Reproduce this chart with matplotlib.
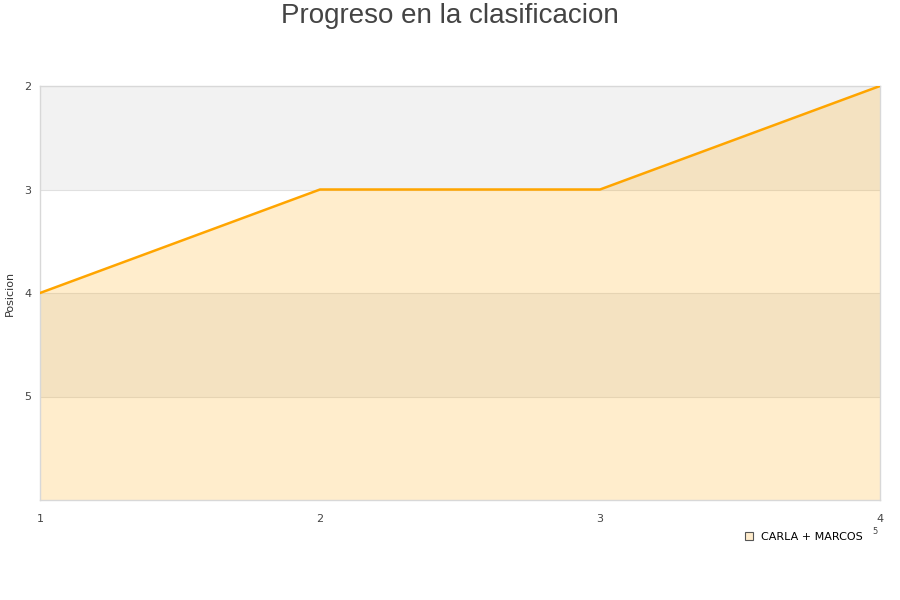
import matplotlib.pyplot as plt
from matplotlib.lines import Line2D

jornadas = [1, 2, 3, 4]
posiciones = [4, 3, 3, 2]
serie = 'CARLA + MARCOS'
y_ticks = [2, 3, 4, 5]

fig = plt.figure(figsize=(9, 6), dpi=100)
ax = fig.add_axes([40/900, 1 - 500/600, 840/900, 414/600])

# alternating bands
for lo, hi, col in [(2, 3, '#f2f2f2'), (3, 4, 'white'), (4, 5, '#f2f2f2'), (5, 6, 'white')]:
    ax.axhspan(lo, hi, color=col, zorder=0, lw=0)
for y in [3, 4, 5]:
    ax.axhline(y, color='#e0e0e0', lw=0.8, zorder=1)

ax.fill_between(jornadas, posiciones, 6, color='#ffa500', alpha=0.2, lw=0, zorder=2)
ax.plot(jornadas, posiciones, color='#ffa500', lw=1.8, zorder=3)

ax.set_xlim(1, 4)
ax.set_ylim(6, 2)
ax.set_xticks(jornadas)
ax.set_yticks(y_ticks)
ax.tick_params(length=0, labelsize=8, colors='#444444', pad=10)
ax.tick_params(axis='y', pad=6)
for s in ax.spines.values():
    s.set_color('#d8d8d8')
    s.set_linewidth(1)
fig.text(10/900, 1 - 293/600, 'Posicion', rotation=90, fontsize=8, color='#333333',
         ha='center', va='center')

fig.text(0.5, 1 - 16/600, 'Progreso en la clasificacion', ha='center', va='center',
         fontsize=20, color='#444444', family='Liberation Sans')

handle = Line2D([], [], marker='s', ls='none', markersize=6,
                markerfacecolor='#ffeccc', markeredgecolor='#555555', markeredgewidth=0.8)
fig.legend([handle], [serie], loc='center', bbox_to_anchor=(0.892, 1 - 537/600),
           frameon=False, fontsize=8, handletextpad=0.6, handlelength=1)
fig.text(875/900, 1 - 532/600, '5', fontsize=6, color='#444444', ha='center', va='center')

fig.savefig('out.png')
